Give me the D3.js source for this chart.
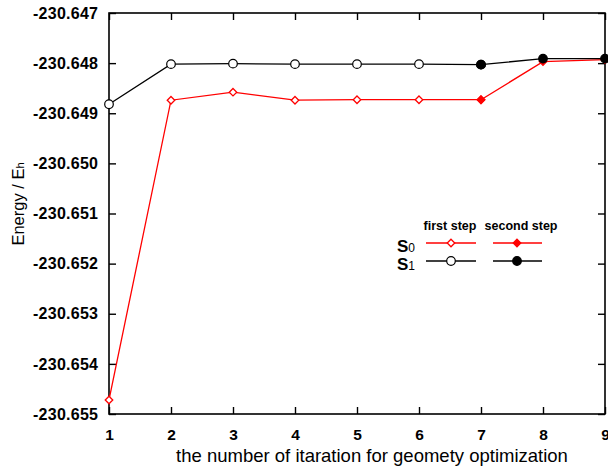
<!DOCTYPE html>
<html>
<head>
<meta charset="utf-8">
<script src="https://cdn.jsdelivr.net/npm/d3@7"></script>
<style>
  html, body { margin: 0; padding: 0; background: #fff; }
  svg { display: block; font-family: "Liberation Sans", Arial, Helvetica, sans-serif; }
</style>
</head>
<body>
<svg id="chart" width="608" height="469"></svg>
<script>
// Iteration numbers of the geometry optimisation
const iterations = [1, 2, 3, 4, 5, 6, 7, 8, 9];

// S0 energies (Hartree)
const s0FirstIter = [1, 2, 3, 4, 5, 6, 7];
const s0First = [-230.65472, -230.64874, -230.64858, -230.64874, -230.64873, -230.64873, -230.64873];
const s0SecondIter = [7, 8, 9];
const s0Second = [-230.64873, -230.64797, -230.64793];

// S1 energies (Hartree)
const s1FirstIter = [1, 2, 3, 4, 5, 6, 7];
const s1First = [-230.64882, -230.64802, -230.64801, -230.64802, -230.64802, -230.64802, -230.64803];
const s1SecondIter = [7, 8, 9];
const s1Second = [-230.64803, -230.64791, -230.64791];

const yTicks = [-230.647, -230.648, -230.649, -230.650, -230.651, -230.652, -230.653, -230.654, -230.655];

const svg = d3.select("#chart");
const plotLeft = 109, plotRight = 605, plotTop = 13, plotBottom = 414;

const x = d3.scaleLinear().domain([1, 9]).range([plotLeft, plotRight]);
const y = d3.scaleLinear().domain([-230.655, -230.647]).range([plotBottom, plotTop]);

// Frame
svg.append("rect")
  .attr("x", plotLeft).attr("y", plotTop)
  .attr("width", plotRight - plotLeft).attr("height", plotBottom - plotTop)
  .attr("fill", "none").attr("stroke", "#000").attr("stroke-width", 1.6);

// Inward ticks on all four sides
const tickLen = 7;
const hyphenFmt = d => d.toFixed(3); // plain ASCII hyphen for the minus sign
const bottomAxis = d3.axisBottom(x).tickValues(iterations).tickSize(-tickLen).tickPadding(15).tickFormat(d3.format("d"));
const topAxis = d3.axisTop(x).tickValues(iterations).tickSize(-tickLen).tickFormat("");
const leftAxis = d3.axisLeft(y).tickValues(yTicks).tickSize(-tickLen).tickPadding(11).tickFormat(hyphenFmt);
const rightAxis = d3.axisRight(y).tickValues(yTicks).tickSize(-tickLen).tickFormat("");

function styleAxis(g) {
  g.select(".domain").remove();
  g.selectAll(".tick line").attr("stroke", "#000").attr("stroke-width", 1.4);
  g.selectAll("text")
    .attr("fill", "#000")
    .style("font-size", "15.5px")
    .style("font-weight", "bold")
    .style("font-family", "'Liberation Sans', Arial, sans-serif");
}

svg.append("g").attr("transform", `translate(0,${plotBottom})`).call(bottomAxis).call(styleAxis);
svg.append("g").attr("transform", `translate(0,${plotTop})`).call(topAxis).call(styleAxis);
const leftG = svg.append("g").attr("transform", `translate(${plotLeft},0)`).call(leftAxis).call(styleAxis);
leftG.selectAll("text").style("font-size", "16px").attr("textLength", 65).attr("lengthAdjust", "spacing");
svg.append("g").attr("transform", `translate(${plotRight},0)`).call(rightAxis).call(styleAxis);

// Axis titles
svg.append("text")
  .attr("x", 372).attr("y", 462)
  .attr("text-anchor", "middle")
  .style("font-size", "18.5px")
  .text("the number of itaration for geomety optimization");

const yTitle = svg.append("text")
  .attr("transform", "translate(24,204) rotate(-90)")
  .attr("text-anchor", "middle")
  .style("font-size", "16.5px");
yTitle.append("tspan").text("Energy / E");
yTitle.append("tspan").style("font-size", "11px").text("h");

// Series drawing
const line = d3.line().x(d => x(d[0])).y(d => y(d[1]));
const zip = (a, b) => a.map((v, i) => [v, b[i]]);
const diamond = d3.symbol().type(d3.symbolDiamond2).size(36);

function drawLine(pts, color) {
  svg.append("path").datum(pts)
    .attr("d", line)
    .attr("fill", "none").attr("stroke", color).attr("stroke-width", 1.3);
}
function drawDiamonds(pts, stroke, fill) {
  svg.append("g").selectAll("path").data(pts).join("path")
    .attr("transform", d => `translate(${x(d[0])},${y(d[1])})`)
    .attr("d", diamond)
    .attr("fill", fill).attr("stroke", stroke).attr("stroke-width", 1.3);
}
function drawCircles(pts, fill) {
  svg.append("g").selectAll("circle").data(pts).join("circle")
    .attr("cx", d => x(d[0])).attr("cy", d => y(d[1]))
    .attr("r", 4.3)
    .attr("fill", fill).attr("stroke", "#000").attr("stroke-width", 1.2);
}

const red = "#ff0000";
const s0a = zip(s0FirstIter, s0First), s0b = zip(s0SecondIter, s0Second);
const s1a = zip(s1FirstIter, s1First), s1b = zip(s1SecondIter, s1Second);

drawLine(s0a, red);
drawDiamonds(s0a, red, "#fff");
drawLine(s0b, red);
drawDiamonds(s0b, red, red);

drawLine(s1a, "#000");
drawCircles(s1a, "#fff");
drawLine(s1b, "#000");
drawCircles(s1b, "#000");

// Legend
const lg = svg.append("g");
lg.append("text").attr("x", 450).attr("y", 230).attr("text-anchor", "middle")
  .style("font-size", "12.5px").style("font-weight", "bold").text("first step");
lg.append("text").attr("x", 521).attr("y", 230).attr("text-anchor", "middle")
  .style("font-size", "12.5px").style("font-weight", "bold").text("second step");

const legendRows = [
  { label: "0", color: red, yPos: 243, kind: "diamond" },
  { label: "1", color: "#000", yPos: 261, kind: "circle" }
];
legendRows.forEach(r => {
  const t = lg.append("text").attr("x", 397).attr("y", r.yPos + 8.5)
    .style("font-size", "17px").style("font-weight", "bold");
  t.append("tspan").text("S");
  t.append("tspan").style("font-size", "12px").style("font-weight", "normal").text(r.label);

  [[426, 476, 451, "#fff"], [493, 542, 517, r.color]].forEach(([x0, x1, xm, fill]) => {
    lg.append("line").attr("x1", x0).attr("x2", x1).attr("y1", r.yPos).attr("y2", r.yPos)
      .attr("stroke", r.color).attr("stroke-width", 1.3);
    if (r.kind === "diamond") {
      lg.append("path").attr("transform", `translate(${xm},${r.yPos})`)
        .attr("d", diamond).attr("fill", fill).attr("stroke", r.color).attr("stroke-width", 1.3);
    } else {
      lg.append("circle").attr("cx", xm).attr("cy", r.yPos).attr("r", 4.3)
        .attr("fill", fill).attr("stroke", "#000").attr("stroke-width", 1.2);
    }
  });
});
</script>
</body>
</html>
